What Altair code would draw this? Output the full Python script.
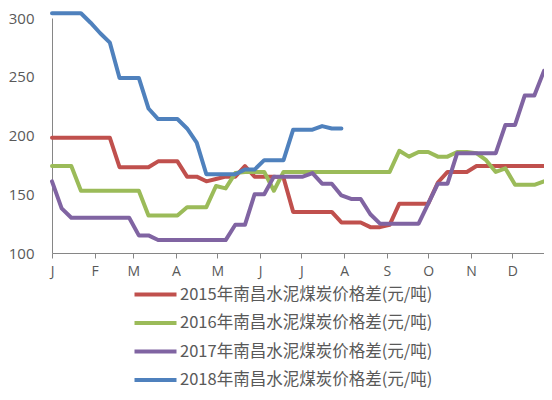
import altair as alt
import pandas as pd

series_names = [
    "2015年南昌水泥煤炭价格差(元/吨)",
    "2016年南昌水泥煤炭价格差(元/吨)",
    "2017年南昌水泥煤炭价格差(元/吨)",
    "2018年南昌水泥煤炭价格差(元/吨)",
]
colors = ["#C0504D", "#9BBB59", "#8064A2", "#4F81BD"]

month_letters = ["J", "F", "M", "A", "M", "J", "J", "A", "S", "O", "N", "D"]
month_start_days = [0, 31, 59, 90, 120, 151, 181, 212, 243, 273, 304, 334]

# weekly values (week i is at day 7*i)
v2015 = [198, 198, 198, 198, 198, 198, 198, 173, 173, 173, 173, 178, 178, 178,
         165, 165, 161, 163, 165, 165, 174, 165, 165, 165, 164, 135, 135, 135,
         135, 135, 126, 126, 126, 122, 122, 124, 142, 142, 142, 142, 160, 169,
         169, 169, 174, 174, 174, 174, 174, 174, 174, 174]
v2016 = [174, 174, 174, 153, 153, 153, 153, 153, 153, 153, 132, 132, 132, 132,
         139, 139, 139, 157, 155, 168, 169, 169, 169, 153, 169, 169, 169, 169,
         169, 169, 169, 169, 169, 169, 169, 169, 187, 182, 186, 186, 182, 182,
         186, 186, 185, 179, 169, 172, 158, 158, 158, 161]
v2017 = [161, 138, 130, 130, 130, 130, 130, 130, 130, 115, 115, 111, 111, 111,
         111, 111, 111, 111, 111, 124, 124, 150, 150, 165, 165, 165, 165, 168,
         159, 159, 149, 146, 146, 133, 125, 125, 125, 125, 125, 142, 159, 159,
         185, 185, 185, 185, 185, 209, 209, 234, 234, 255]
v2018 = [304, 304, 304, 304, 296, 287, 279, 249, 249, 249, 223, 214, 214, 214,
         206, 194, 167, 167, 167, 167, 171, 171, 179, 179, 179, 205, 205, 205,
         208, 206, 206]

rows = []
for name, vals in zip(series_names, [v2015, v2016, v2017, v2018]):
    for i, v in enumerate(vals):
        rows.append({"series": name, "day": 7 * i, "value": v})
df = pd.DataFrame(rows)

label_expr = "{}[indexof({}, datum.value)]".format(
    str(month_letters).replace(" ", ""), str(month_start_days).replace(" ", "")
)

chart = (
    alt.Chart(df)
    .mark_line(strokeWidth=4, strokeJoin="round", strokeCap="round")
    .encode(
        x=alt.X(
            "day:Q",
            scale=alt.Scale(domain=[0, 357], nice=False, zero=False),
            axis=alt.Axis(
                title=None,
                values=month_start_days,
                labelExpr=label_expr,
                grid=False,
                domainColor="#868686",
                tickColor="#868686",
                tickSize=5,
                labelFontSize=14,
                labelColor="#595959",
                labelPadding=6,
                labelFont="Open Sans",
                labelFlush=False,
            ),
        ),
        y=alt.Y(
            "value:Q",
            scale=alt.Scale(domain=[100, 300], nice=False, zero=False),
            axis=alt.Axis(
                title=None,
                values=[100, 150, 200, 250, 300],
                grid=False,
                domainColor="#868686",
                ticks=False,
                labelFontSize=15,
                labelColor="#595959",
                labelPadding=18,
                labelFont="Open Sans",
            ),
        ),
        color=alt.Color(
            "series:N",
            scale=alt.Scale(domain=series_names, range=colors),
            sort=series_names,
            legend=alt.Legend(
                title=None,
                orient="none",
                legendX=91,
                legendY=264,
                direction="vertical",
                symbolType="M-2,0H2",
                symbolSize=441,
                symbolStrokeWidth=4,
                labelFontSize=16.5,
                labelFont="Noto Sans CJK SC",
                labelColor="#595959",
                labelOffset=12,
                rowPadding=7.5,
                labelLimit=400,
                padding=0,
            ),
        ),
        order="day:Q",
    )
    .properties(
        width=492,
        height=235,
        autosize=alt.AutoSizeParams(type="none"),
        padding={"left": 44, "top": 10, "right": 0, "bottom": 139},
    )
    .configure_view(stroke=None)
)

chart.save("out.html", embed_options={"renderer": "svg", "actions": False})
